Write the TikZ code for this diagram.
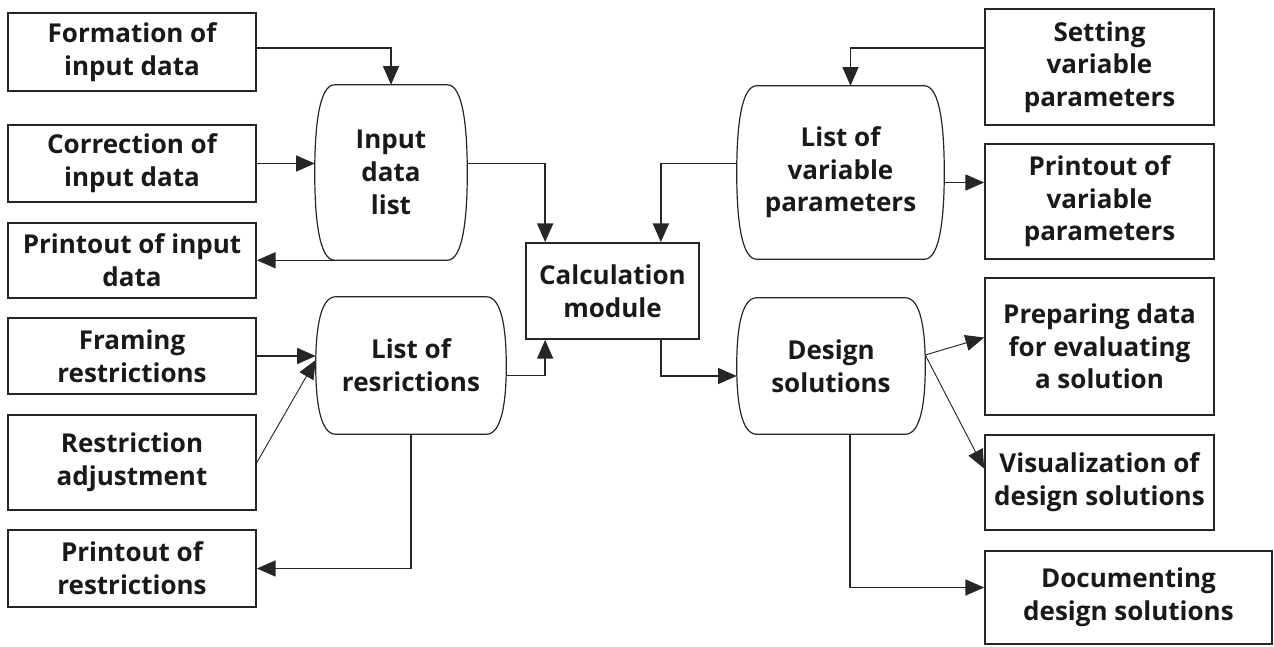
\documentclass[tikz,border=0pt]{standalone}
\usepackage{fontspec}
\setmainfont{Open Sans}
\usetikzlibrary{arrows.meta}
\usetikzlibrary{calc}

\tikzset{
  wh/.style 2 args={minimum width=#1*0.75pt, minimum height=#2*0.75pt},
  blk/.style={draw=black!85, line width=1.3pt, align=center, inner sep=0pt,
    font=\fontsize{19.5}{24.5}\selectfont\bfseries, text=black!90},
  store/.style={align=center, inner sep=0pt,
    font=\fontsize{19.5}{24.5}\selectfont\bfseries, text=black!90},
  flow/.style={draw=black!85, line width=1.1pt, -{Triangle[length=14pt,width=12pt]}},
  slant/.style={flow, line width=0.7pt}
}

\begin{document}
\begin{tikzpicture}[x=0.75pt,y=0.75pt,yscale=-1]
\useasboundingbox (0,0) rectangle (1274,646);

% left column
\node[blk, wh={248}{78}] (form) at (132,52) {Formation of\\input data};
\node[blk, wh={248}{77}] (corr) at (132,163.5) {Correction of\\input data};
\node[blk, wh={248}{75}] (pinp) at (132,260.5) {Printout of input\\data};
\node[blk, wh={248}{76}] (fram) at (132,356) {Framing\\restrictions};
\node[blk, wh={248}{95}] (radj) at (132,462.5) {Restriction\\adjustment};
\node[blk, wh={248}{77}] (pres) at (132,568.5) {Printout of\\restrictions};

% data stores
\node[store, wh={152}{175}] (inlist) at (391,172.5) {Input\\data\\list};
\node[store, wh={190}{137}] (reslist) at (411,365.5) {List of\\resrictions};
\node[store, wh={207}{173}] (varlist) at (840.5,172.5) {List of\\variable\\parameters};
\node[store, wh={188}{136}] (design) at (831,366) {Design\\solutions};

\node[blk, wh={173}{96}] (calc) at (612.5,291) {Calculation\\module};

% right column
\node[blk, wh={229}{116}] (set) at (1099.5,67) {Setting\\variable\\parameters};
\node[blk, wh={229}{115}] (pvar) at (1099.5,201.5) {Printout of\\variable\\parameters};
\node[blk, wh={229}{137}] (prep) at (1099.5,346.5) {Preparing data\\for evaluating\\a solution};
\node[blk, wh={229}{95}] (vis) at (1099.5,482.5) {Visualization of\\design solutions};
\node[blk, wh={287}{93}] (doc) at (1128.5,597.5) {Documenting\\design solutions};

% barrel outlines of the stores
\foreach \n in {inlist,reslist,varlist,design}{
  \draw[black!85, line width=0.9pt]
    ($(\n.north west)+(20,0)$) -- ($(\n.north east)+(-20,0)$)
    .. controls ($(\n.north east)+(-4,0)$) and ($(\n.north east)!0.5!(\n.east)$) .. (\n.east)
    .. controls ($(\n.south east)!0.5!(\n.east)$) and ($(\n.south east)+(-4,0)$) .. ($(\n.south east)+(-20,0)$)
    -- ($(\n.south west)+(20,0)$)
    .. controls ($(\n.south west)+(4,0)$) and ($(\n.south west)!0.5!(\n.west)$) .. (\n.west)
    .. controls ($(\n.north west)!0.5!(\n.west)$) and ($(\n.north west)+(4,0)$) .. cycle;
}

% input data
\draw[flow] ($(form.east)+(0,-4)$) -| (inlist.north);
\draw[flow] (corr.east) -- (corr.east -| inlist.west);
\draw[flow] ($(inlist.south west)+(20,0)$) -- (inlist.south -| pinp.east);
\draw[flow] ($(inlist.east)+(0,-9)$) -| ($(calc.north west)+(20,0)$);

% restrictions
\coordinate (rin) at (fram.east -| reslist.west);
\draw[flow] (fram.east) -- (rin);
\draw[slant] (radj.east) -- ($(rin)+(0,4)$);
\draw[flow] ($(reslist.east)+(0,10)$) -| ($(calc.south west)+(20,0)$);
\draw[flow] (reslist.south) |- (pres.east);

% variable parameters
\draw[flow] ($(set.west)+(0,-19)$) -| ($(varlist.north)+(10,0)$);
\draw[flow] ($(varlist.west)+(0,-9)$) -| ($(calc.north east)+(-39,0)$);
\draw[flow] (varlist.east) ++(0,10) coordinate (vo) -- (vo -| pvar.west);

% design solutions
\draw[flow] ($(calc.south east)+(-39,0)$) |- ($(design.west)+(0,10)$);
\draw[slant] ($(design.east)+(0,-11)$) -- ($(prep.west)+(0,-9)$);
\draw[slant] ($(design.east)+(0,-11)$) -- ($(vis.west)+(0,-14)$);
\draw[flow] ($(design.south)+(19,0)$) |- ($(doc.west)+(0,-10)$);

\end{tikzpicture}
\end{document}
